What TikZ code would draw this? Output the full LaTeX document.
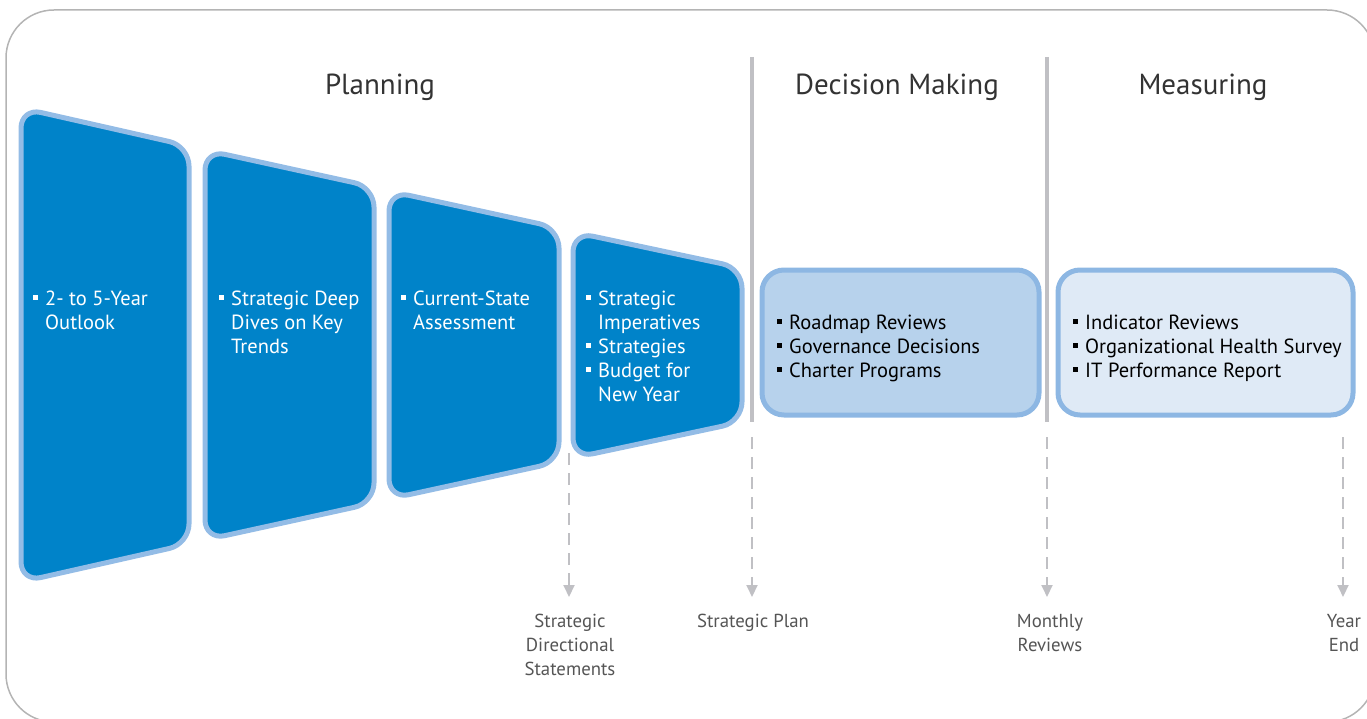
\documentclass[tikz,border=0pt]{standalone}
\usepackage{fontspec}
\setmainfont{PT Sans}
\usetikzlibrary{arrows.meta, calc}
\definecolor{stageblue}{HTML}{0083C9}
\definecolor{stageedge}{HTML}{93BCE6}
\definecolor{decfill}{HTML}{B7D2EC}
\definecolor{measfill}{HTML}{DFEAF6}
\definecolor{boxedge}{HTML}{8DB7E3}
\definecolor{sepgrey}{HTML}{C0C0C4}
\definecolor{framegrey}{HTML}{B4B4B4}
\definecolor{headtext}{HTML}{333333}
\definecolor{labtext}{HTML}{555555}
\newcommand{\bul}{\makebox[12pt][l]{\rule[5.5pt]{4.5pt}{4.5pt}}}
\newcommand{\ind}{\hspace*{12pt}}
\tikzset{
    stage/.style     = {draw=stageedge, line width=5pt, fill=stageblue, rounded corners=20pt},
    decbox/.style    = {draw=boxedge, line width=5pt, fill=decfill, rounded corners=22pt},
    measbox/.style   = {draw=boxedge, line width=5pt, fill=measfill, rounded corners=22pt},
    stagetext/.style = {anchor=north west, inner sep=0pt, align=left, text=white, font=\fontsize{20.5}{24}\selectfont},
    boxtext/.style   = {stagetext, text=black},
    head/.style      = {anchor=base, inner sep=0pt, text=headtext, font=\fontsize{29}{34}\selectfont},
    milestone/.style = {anchor=north, inner sep=0pt, align=center, text=labtext, font=\fontsize{18.8}{24}\selectfont},
    sepline/.style   = {draw=sepgrey, line width=4pt},
    dasharrow/.style = {draw=sepgrey, line width=2pt, dash pattern=on 12pt off 8pt, -{Triangle[width=11pt,length=12pt]}, shorten >=13pt},
}

\begin{document}
\begin{tikzpicture}[x=1pt, y=-1pt]
  \useasboundingbox (0,0) rectangle (1367,719);
  \draw[framegrey, line width=1.5pt, rounded corners=48pt] (6,10) rectangle (1375,722);
  % headings
  \node[head] (planning) at (380,95)  {Planning};
  \node[head] (deciding) at (897,95)  {Decision Making};
  \node[head] (measuring) at (1203,95) {Measuring};
  % planning stages
  \draw[stage] (21,108) -- (189,146) -- (189,544) -- (21,582) -- cycle;
  \draw[stage] (205,150) -- (374,187) -- (374,503) -- (205,540) -- cycle;
  \draw[stage] (389,191) -- (559,228) -- (559,462) -- (389,499) -- cycle;
  \draw[stage] (573,232) -- (742,268) -- (742,422) -- (573,458) -- cycle;
  \node[stagetext] (outlook) at (33,288)  {\strut\bul 2- to 5-Year\\\ind Outlook};
  \node[stagetext] (dives)   at (219,288) {\strut\bul Strategic Deep\\\ind Dives on Key\\\ind Trends};
  \node[stagetext] (assess)  at (401,288) {\strut\bul Current-State\\\ind Assessment};
  \node[stagetext] (imper)   at (586,288) {\strut\bul Strategic\\\ind Imperatives\\\bul Strategies\\\bul Budget for\\\ind New Year};
  % decision making and measuring
  \draw[decbox]  (762,270) rectangle (1039,415);
  \draw[measbox] (1058,270) rectangle (1353,415);
  \node[boxtext] (roadmap) at (777,312)  {\strut\bul Roadmap Reviews\\\bul Governance Decisions\\\bul Charter Programs};
  \node[boxtext] (indic)   at (1073,312) {\strut\bul Indicator Reviews\\\bul Organizational Health Survey\\\bul IT Performance Report};
  % milestones
  \node[milestone] (sds)     at (570,610)  {\strut Strategic\\Directional\\Statements};
  \node[milestone] (plan)    at (753,610)  {\strut Strategic Plan};
  \node[milestone] (monthly) at (1050,610) {\strut Monthly\\Reviews};
  \node[milestone] (yearend) at (1344,610) {\strut Year\\End};
  % separators and arrows
  \coordinate (dm top) at (752,57);
  \coordinate (dm end) at (752,422);
  \coordinate (dm dash) at (752,437);
  \coordinate (ms top) at (1047,57);
  \coordinate (ms end) at (1047,422);
  \coordinate (ms dash) at (1047,437);
  \coordinate (sds dash) at (569,453);
  \coordinate (ye dash) at (1343,437);
  \draw[sepline] (dm top) -- (dm end);
  \draw[sepline] (ms top) -- (ms end);
  \draw[dasharrow] (sds dash) -- (sds dash |- sds.north);
  \draw[dasharrow] (dm dash) -- (dm dash |- plan.north);
  \draw[dasharrow] (ms dash) -- (ms dash |- monthly.north);
  \draw[dasharrow] (ye dash) -- (ye dash |- yearend.north);
\end{tikzpicture}
\end{document}
